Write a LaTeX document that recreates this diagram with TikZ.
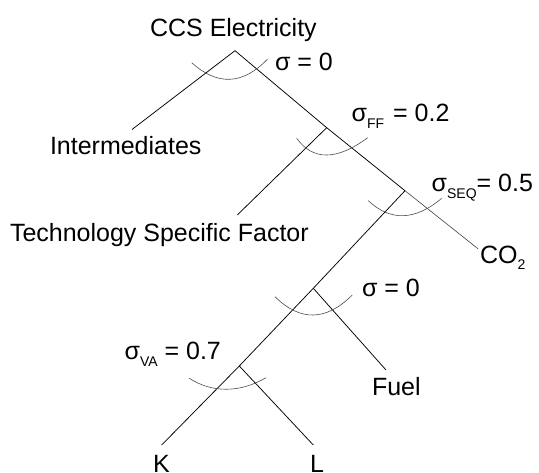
\documentclass[tikz,border=0pt]{standalone}
\usepackage{fontspec}
\setmainfont{Liberation Sans}
\newcommand{\lsub}[1]{\raisebox{-6.5pt}{\fontsize{14}{14}\selectfont #1}}
\begin{document}
\begin{tikzpicture}[x=1pt,y=-1pt,
  branch/.style={draw=black,line width=0.75pt},
  thinbranch/.style={draw=black!75,line width=0.6pt},
  elast/.style={draw=black!70,line width=0.6pt},
  lbl/.style={inner sep=0pt,outer sep=0pt,font=\fontsize{25}{29}\selectfont,anchor=base west}]
\useasboundingbox (0,0) rectangle (539,473);
% junctions
\coordinate (n1) at (235,50.7);
\coordinate (n2) at (326.7,127.7);
\coordinate (n3) at (405,190.7);
\coordinate (n4) at (313.3,288.3);
\coordinate (n5) at (239.3,366);
% free ends
\coordinate (eInt) at (132,129.5);
\coordinate (eTSF) at (237.3,215);
\coordinate (eCO) at (478.3,249);
\coordinate (eFuel) at (386,370);
\coordinate (eK) at (161.7,445);
\coordinate (eL) at (313.3,445);
% connectors
\draw[branch] (n1) -- (eInt);
\draw[branch] (n1) -- (n2) -- (n3);
\draw[thinbranch] (n3) -- (eCO);
\draw[branch] (n2) -- (eTSF);
\draw[branch] (n3) -- (n4) -- (n5) -- (eK);
\draw[branch] (n4) -- (eFuel);
\draw[branch] (n5) -- (eL);
% elasticity arcs
\draw[elast] (191.7,62.7) .. controls (217.6,86.0) and (242.8,84.8) .. (267.3,59.3);
\draw[elast] (296.7,138.3) .. controls (313.0,160.8) and (336.7,160.6) .. (367.7,137.7);
\draw[elast] (368.3,200.7) .. controls (390.5,221.5) and (415.0,220.7) .. (441.7,198.3);
\draw[elast] (275,296.7) .. controls (300.3,321.7) and (326.1,321.1) .. (352.3,295);
\draw[elast] (189.3,378.3) .. controls (212,393) and (240,393) .. (266,377.7);
% labels
\node[lbl,anchor=base] (tCCS) at (233.4,36.7) {CCS Electricity};
\node[lbl] (s1) at (275,70.5) {σ = 0};
\node[lbl] (tInt) at (50,155) {Intermediates};
\node[lbl] (sFF) at (351.7,121.7) {σ\lsub{FF}\hspace{2pt} = 0.2};
\node[lbl] (tTSF) at (10,241.7) {Technology Specific Factor};
\node[lbl] (sSEQ) at (431.7,191.7) {σ\lsub{SEQ}= 0.5};
\node[lbl] (tCO) at (480,263.3) {CO\lsub{2}};
\node[lbl] (s2) at (362,296.5) {σ = 0};
\node[lbl] (sVA) at (124.6,360) {σ\lsub{VA} = 0.7};
\node[lbl] (tFuel) at (372,395.5) {Fuel};
\node[lbl] (tK) at (153,473) {K};
\node[lbl] (tL) at (310,473) {L};
\end{tikzpicture}
\end{document}
